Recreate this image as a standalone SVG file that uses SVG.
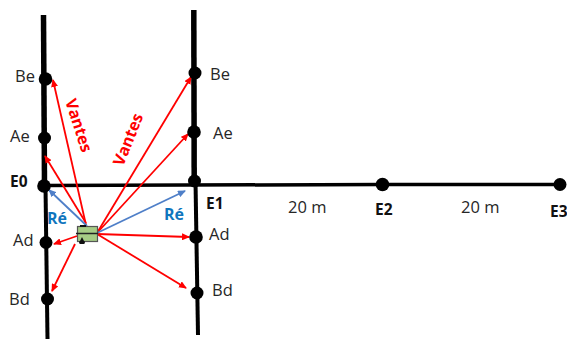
<svg xmlns="http://www.w3.org/2000/svg" width="567" height="339" viewBox="0 0 567 339">
<style>
.road{fill:none;stroke:#000;stroke-linecap:butt}
.n{fill:#000}
.t{font-family:"Open Sans","Noto Sans",sans-serif;font-size:16.5px;fill:#262626}
.b{font-family:"Open Sans","Noto Sans",sans-serif;font-size:15.5px;font-weight:700;fill:#111}
.re{font-family:"Open Sans","Noto Sans",sans-serif;font-size:16px;font-weight:700;fill:#0f75bd}
.v{font-family:"Open Sans","Noto Sans",sans-serif;font-size:16px;font-weight:700;fill:#f00}
.r{stroke:#f00;stroke-width:1.8;fill:none;marker-end:url(#ar)}
.bl{stroke:#4f7fc8;stroke-width:1.8;fill:none;marker-end:url(#ab)}
</style>
<defs>
<marker id="ar" markerUnits="userSpaceOnUse" markerWidth="8" markerHeight="7" refX="7" refY="3.5" orient="auto"><path d="M0 0L8 3.5L0 7z" fill="#f00"/></marker>
<marker id="ab" markerUnits="userSpaceOnUse" markerWidth="8" markerHeight="7" refX="7" refY="3.5" orient="auto"><path d="M0 0L8 3.5L0 7z" fill="#4f7fc8"/></marker>
</defs>
<g id="roads">
<path class="road" stroke-width="5.500" d="M43.500 15L44.500 186"/>
<path class="road" stroke-width="4" d="M45.500 186L47.500 339"/>
<path class="road" stroke-width="5.500" d="M193.800 10L194.200 180"/>
<path class="road" stroke-width="4" d="M195.500 181L198 335"/>
<path class="road" stroke-width="3.500" d="M44 185.500L382 184.500L560 184.500"/>
</g>
<g id="connectors">
<path class="r" d="M86 225L53 80"/>
<path class="r" d="M86 223L45 156"/>
<path class="r" d="M97 233L191 77"/>
<path class="r" d="M97 233L188 134"/>
<path class="r" d="M97 234L189 237"/>
<path class="r" d="M97 234L186 288"/>
<path class="r" d="M77 236L54 244"/>
<path class="r" d="M75 244L52 291"/>
<path class="bl" d="M87 226L49 190"/>
<path class="bl" d="M97 233L185 191"/>
</g>
<g id="node-be-left"><circle class="n" cx="45.500" cy="79" r="6.800"/><text class="t" x="15" y="82">Be</text></g>
<g id="node-ae-left"><circle class="n" cx="44.500" cy="138" r="6.500"/><text class="t" x="10" y="142">Ae</text></g>
<g id="node-e0"><circle class="n" cx="44" cy="186" r="6.800"/><text class="b" x="10" y="187">E0</text></g>
<g id="node-ad-left"><circle class="n" cx="46" cy="242.500" r="6.500"/><text class="t" x="13" y="246">Ad</text></g>
<g id="node-bd-left"><circle class="n" cx="47.500" cy="299" r="6.500"/><text class="t" x="9" y="305">Bd</text></g>
<g id="node-be-right"><circle class="n" cx="195" cy="73" r="6.500"/><text class="t" x="210" y="80">Be</text></g>
<g id="node-ae-right"><circle class="n" cx="194" cy="132" r="6.800"/><text class="t" x="213" y="139">Ae</text></g>
<g id="node-e1"><circle class="n" cx="194.500" cy="181" r="6.500"/><text class="b" x="206" y="209">E1</text></g>
<g id="node-ad-right"><circle class="n" cx="196" cy="237" r="6.800"/><text class="t" x="209" y="240">Ad</text></g>
<g id="node-bd-right"><circle class="n" cx="197" cy="293" r="6.500"/><text class="t" x="212" y="296">Bd</text></g>
<g id="node-e2"><circle class="n" cx="382.500" cy="184.500" r="6.800"/><text class="b" x="375" y="215">E2</text></g>
<g id="node-e3"><circle class="n" cx="560" cy="184.500" r="6.500"/><text class="b" x="550" y="217">E3</text></g>
<g id="device">
<rect x="77.500" y="226.500" width="20" height="15" fill="#a6cc85" stroke="#555" stroke-width="1.200"/>
<path d="M76 233.500H98" stroke="#222" stroke-width="1.500"/>
<rect x="80" y="225" width="6" height="2" fill="#111"/>
<path d="M79 243L82 237L85 243z" fill="#111"/><rect x="79.500" y="241" width="5" height="3" fill="#111"/>
</g>
<g id="labels">
<text class="t" x="288" y="213">20 m</text>
<text class="t" x="461" y="213">20 m</text>
<text class="re" x="47" y="224">Ré</text>
<text class="re" x="164" y="220">Ré</text>
<text class="v" transform="translate(65 101) rotate(72)">Vantes</text>
<text class="v" transform="translate(123 167) rotate(-68)">Vantes</text>
</g>
</svg>
